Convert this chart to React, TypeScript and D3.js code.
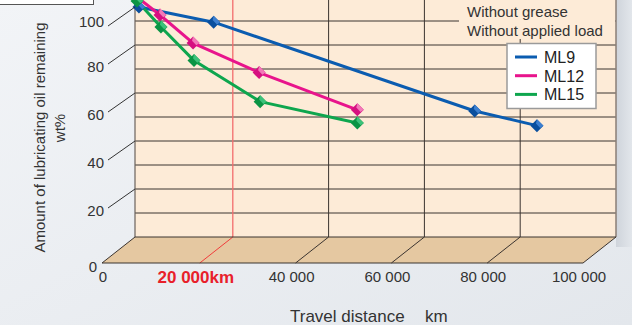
import React from "react";
import * as d3 from "d3";

const seriesNames = ["ML9", "ML12", "ML15"];
const seriesColors = ["#0b5cb0", "#e8148c", "#0ea64e"];
const markerLight = ["#3c7fd0", "#f27ab8", "#3cc27a"];
const markerDark = ["#0a4f9e", "#d60f80", "#0a9444"];

const ml9Km = [400, 16000, 70500, 83500];
const ml9Pct = [95.8, 89.5, 52.5, 46.4];
const ml12Km = [0, 4800, 11700, 25500, 46000];
const ml12Pct = [100, 92.5, 80.8, 68.5, 53];
const ml15Km = [0, 5000, 11900, 25700, 46000];
const ml15Pct = [98.3, 87.5, 73.5, 56.4, 47.5];

const yTicks = [0, 20, 40, 60, 80, 100];
const yGrid = [10, 20, 30, 40, 50, 60, 70, 80, 90, 100];
const xTicks = [0, 20000, 40000, 60000, 80000, 100000];
const xTickLabels = ["0", "20 000km", "40 000", "60 000", "80 000", "100 000"];
const yTitle = "Amount of lubricating oil remaining";
const yUnit = "wt%";
const xTitle = "Travel distance";
const xUnit = "km";
const note1 = "Without grease";
const note2 = "Without applied load";

const W = 632;
const H = 325;
const FONT = "'Liberation Sans', Arial, sans-serif";

export default function App() {
  const x = d3.scaleLinear().domain([0, 100000]).range([137, 616]);
  const y = d3.scaleLinear().domain([0, 100]).range([237, -3]);
  const wallL = 135;
  const wallR = 616;
  const dx = -33;
  const dy = 26;
  const y0 = y(0);

  const series = [
    ml9Km.map((k, i) => [k, ml9Pct[i]]),
    ml12Km.map((k, i) => [k, ml12Pct[i]]),
    ml15Km.map((k, i) => [k, ml15Pct[i]]),
  ];
  const line = d3
    .line<number[]>()
    .x((d) => x(d[0]))
    .y((d) => y(d[1]));

  const floor = `M${wallL},${y0} L${wallR},${y0} L${wallR + dx},${y0 + dy} L${wallL + dx},${y0 + dy} Z`;

  const diamond = (cx: number, cy: number, r: number) =>
    `M${cx},${cy - r} L${cx + r},${cy} L${cx},${cy + r} L${cx - r},${cy} Z`;
  const hl = (cx: number, cy: number, r: number) =>
    `M${cx},${cy - r} L${cx + r},${cy} L${cx + r / 2},${cy + r / 2 - 1} L${cx - 1},${cy - r / 2 + 1} Z`;

  return (
    <svg
      width={W}
      height={H}
      style={{ position: "absolute", left: 0, top: 0, fontFamily: FONT }}
    >
      <defs>
        <linearGradient id="bg" x1="0" y1="0" x2="1" y2="1">
          <stop offset="0" stopColor="#f2f4f7" />
          <stop offset="1" stopColor="#e3e7ec" />
        </linearGradient>
        <linearGradient id="rs" x1="0" y1="0" x2="1" y2="0">
          <stop offset="0" stopColor="#cfd4db" />
          <stop offset="1" stopColor="#e2e6eb" />
        </linearGradient>
      </defs>
      <rect x={0} y={0} width={W} height={H} fill="url(#bg)" />
      <rect x={wallR} y={0} width={W - wallR} height={y0 + 10} fill="url(#rs)" />

      {/* wall */}
      <rect x={wallL} y={-5} width={wallR - wallL} height={y0 + 5} fill="#fdebd7" />
      {/* floor */}
      <path d={floor} fill="#e5c8a1" />

      {/* horizontal grid */}
      {yGrid.map((v) => (
        <line
          key={"h" + v}
          x1={wallL}
          x2={wallR}
          y1={y(v)}
          y2={y(v)}
          stroke="#3b3430"
          strokeWidth={1}
        />
      ))}
      {/* vertical grid on wall and floor */}
      {xTicks.slice(2, 5).map((t) => (
        <g key={"v" + t}>
          <line x1={x(t)} x2={x(t)} y1={-5} y2={y0} stroke="#3b3430" strokeWidth={1} />
          <line x1={x(t)} x2={x(t) + dx} y1={y0} y2={y0 + dy} stroke="#3b3430" strokeWidth={1} />
        </g>
      ))}
      {/* red 20 000 km line */}
      <line x1={x(20000)} x2={x(20000)} y1={-5} y2={y0} stroke="#f26d6d" strokeWidth={1.3} />
      <line x1={x(20000)} x2={x(20000) + dx} y1={y0} y2={y0 + dy} stroke="#f03c3c" strokeWidth={1} />

      {/* wall edges */}
      <line x1={wallL} x2={wallL} y1={-5} y2={y0} stroke="#6b625c" strokeWidth={1.2} />
      <line x1={wallR} x2={wallR} y1={-5} y2={y0} stroke="#8a7e76" strokeWidth={1.5} />
      <line x1={wallL} x2={wallR} y1={y0} y2={y0} stroke="#3b3430" strokeWidth={1} />
      <line x1={wallL} x2={wallL + dx} y1={y0} y2={y0 + dy} stroke="#3b3430" strokeWidth={1} />
      <line x1={wallR} x2={wallR + dx} y1={y0} y2={y0 + dy} stroke="#3b3430" strokeWidth={1} />
      <line x1={wallL + dx} x2={wallR + dx} y1={y0 + dy} y2={y0 + dy} stroke="#3b3430" strokeWidth={1.2} />

      {/* annotation */}
      <rect x={459} y={-2} width={wallR - 459 - 1} height={41} fill="#fdebd7" />
      <text x={467} y={17} fontSize={15} fill="#333">{note1}</text>
      <text x={467} y={36} fontSize={15} fill="#333">{note2}</text>

      {/* series */}
      {series.map((s, i) => (
        <path
          key={"l" + i}
          d={line(s) || ""}
          fill="none"
          stroke={seriesColors[i]}
          strokeWidth={3}
          strokeLinejoin="round"
        />
      ))}
      {series.map((s, i) =>
        s.map((d, j) => (
          <g key={"m" + i + "-" + j}>
            <path d={diamond(x(d[0]), y(d[1]), 6.5)} fill={markerDark[i]} />
            <path d={hl(x(d[0]), y(d[1]), 6.5)} fill={markerLight[i]} />
          </g>
        ))
      )}

      {/* legend */}
      <rect x={507} y={43.5} width={89} height={65} fill="#ffffff" stroke="#9a9a9a" strokeWidth={1.5} />
      {seriesNames.map((n, i) => (
        <g key={"lg" + i}>
          <line
            x1={515}
            x2={537}
            y1={57 + i * 18.7}
            y2={57 + i * 18.7}
            stroke={seriesColors[i]}
            strokeWidth={3}
          />
          <text x={544} y={63 + i * 18.7} fontSize={16} fill="#222">
            {n}
          </text>
        </g>
      ))}

      {/* top-left box */}
      <rect x={-2} y={-2} width={95.5} height={6.5} fill="#ffffff" stroke="#555" strokeWidth={1} />

      {/* y ticks */}
      {yTicks.map((v) => {
        if (v === 0) {
          return (
            <text key={"yt" + v} x={97} y={272} fontSize={15} fill="#333" textAnchor="end">
              {v}
            </text>
          );
        }
        const by = v === 100 ? 7 : y(v);
        const ly = v === 100 ? 27 : y(v) + 27;
        return (
          <g key={"yt" + v}>
            <line x1={108} y1={by + 19} x2={wallL} y2={by} stroke="#333" strokeWidth={1} />
            <text x={104} y={ly} fontSize={15} fill="#333" textAnchor="end">
              {v}
            </text>
          </g>
        );
      })}

      {/* x ticks */}
      {xTicks.map((t, i) =>
        i === 1 ? (
          <text
            key={"xt" + t}
            x={x(t) - 37}
            y={283}
            fontSize={17}
            fontWeight="bold"
            fill="#e8202a"
            textAnchor="middle"
          >
            {xTickLabels[i]}
          </text>
        ) : (
          <text
            key={"xt" + t}
            x={i === 0 ? 103 : x(t) - 37}
            y={282}
            fontSize={15}
            fill="#333"
            textAnchor="middle"
          >
            {xTickLabels[i]}
          </text>
        )
      )}

      {/* axis titles */}
      <text x={290} y={322} fontSize={17} fill="#333">
        {xTitle}
      </text>
      <text x={425} y={322} fontSize={17} fill="#333">
        {xUnit}
      </text>
      <text
        transform="translate(45,137.5) rotate(-90)"
        fontSize={15}
        fill="#333"
        textAnchor="middle"
      >
        {yTitle}
      </text>
      <text
        transform="translate(65,128) rotate(-90)"
        fontSize={15}
        fill="#333"
        textAnchor="middle"
      >
        {yUnit}
      </text>
    </svg>
  );
}
